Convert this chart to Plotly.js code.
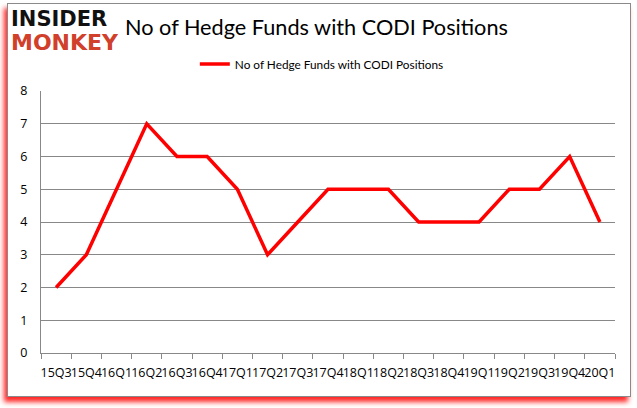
<!DOCTYPE html>
<html>
<head>
<meta charset="utf-8">
<script src="https://cdn.plot.ly/plotly-3.0.1.min.js"></script>
<style>
html,body{margin:0;padding:0;background:#fff;}
#frame{position:absolute;left:7px;top:3px;width:622px;height:392px;border:1px solid #8a8a8a;box-shadow:-3px 5px 5px rgba(255,0,0,0.85);background:#fff;}
#chart{position:absolute;left:0;top:0;width:637px;height:408px;}
</style>
</head>
<body>
<div id="frame"></div>
<div id="chart"></div>
<script>
var quarters = ["15Q3","15Q4","16Q1","16Q2","16Q3","16Q4","17Q1","17Q2","17Q3","17Q4","18Q1","18Q2","18Q3","18Q4","19Q1","19Q2","19Q3","19Q4","20Q1"];
var hedgeFunds = [2,3,5,7,6,6,5,3,4,5,5,5,4,4,4,5,5,6,4];
var seriesName = "No of Hedge Funds with CODI Positions";
var chartTitle = "No of Hedge Funds with CODI Positions";

var trace = {
  x: quarters,
  y: hedgeFunds,
  type: "scatter",
  mode: "lines",
  name: seriesName,
  line: {color: "#ff0000", width: 3.5}
};

var layout = {
  width: 637,
  height: 408,
  paper_bgcolor: "rgba(0,0,0,0)",
  plot_bgcolor: "rgba(0,0,0,0)",
  margin: {l: 41, r: 22, t: 91, b: 55},
  showlegend: true,
  legend: {
    orientation: "h",
    x: 0.268, xanchor: "left",
    xref: "paper",
    y: 1.103, yanchor: "middle",
    itemwidth: 30,
    font: {family: "Lato, sans-serif", size: 11.8, color: "#000"},
    bgcolor: "rgba(0,0,0,0)"
  },
  xaxis: {
    type: "category",
    range: [-0.5, 18.5],
    showgrid: false,
    showline: true,
    linecolor: "#888",
    linewidth: 1,
    ticks: "outside",
    tickson: "boundaries",
    ticklen: 5,
    tickcolor: "#888",
    ticklabelstandoff: 8,
    tickfont: {family: "Open Sans, sans-serif", size: 12.5, color: "#000"},
    tickangle: 0,
    zeroline: false,
    fixedrange: true
  },
  yaxis: {
    range: [0, 8],
    dtick: 1,
    showgrid: true,
    gridcolor: "#888",
    gridwidth: 1,
    showline: true,
    linecolor: "#888",
    zeroline: false,
    ticks: "",
    ticklen: 0,
    ticklabelstandoff: 10,
    tickfont: {family: "Open Sans, sans-serif", size: 12.5, color: "#000"},
    fixedrange: true
  },
  annotations: [
    {text: "<b>INSIDER</b>", xref: "paper", yref: "paper", x: -0.056, y: 1.275, xanchor: "left", yanchor: "middle",
     height: 20, valign: "middle",
     showarrow: false, font: {family: "DejaVu Sans, sans-serif", size: 21, color: "#111"}},
    {text: "<b>MONKEY</b>", xref: "paper", yref: "paper", x: -0.056, y: 1.186, xanchor: "left", yanchor: "middle",
     height: 20, valign: "middle",
     showarrow: false, font: {family: "DejaVu Sans, sans-serif", size: 22, color: "#d0402a"}},
    {text: chartTitle, xref: "paper", yref: "paper", x: 0.143, y: 1.244, xanchor: "left", yanchor: "middle",
     showarrow: false, font: {family: "Lato, sans-serif", size: 21.7, color: "#000"}}
  ]
};

Plotly.newPlot("chart", [trace], layout, {displayModeBar: false, staticPlot: true});
</script>
</body>
</html>
